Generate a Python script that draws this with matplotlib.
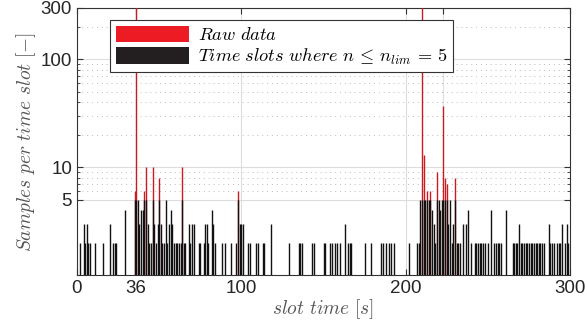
import numpy as np
import matplotlib
matplotlib.use('Agg')
import matplotlib.pyplot as plt
from matplotlib.patches import Patch
from matplotlib.ticker import FixedLocator, NullFormatter

# samples per 1 s slot (slots not listed hold <= 1 sample)
slot_t = [2, 4, 5, 6, 7, 8, 11, 16, 20, 22, 23, 24, 29,
          35, 36, 37, 38, 39, 40, 41, 42, 43, 44, 45, 46, 47, 48, 49, 50,
          51, 52, 53, 54, 55, 56, 57, 58, 59, 60, 61, 62, 63, 64, 65, 66,
          68, 69, 70, 71, 74, 75, 77, 78, 79, 80, 82, 83, 84, 88, 90, 94,
          97, 98, 99, 100, 101, 104, 105, 109, 110, 113, 114, 118, 129,
          135, 136, 137, 143, 144, 150, 151, 154, 155, 157, 158, 160, 163,
          165, 166, 167, 175, 179, 185, 186, 188, 190, 191, 193, 202,
          207, 208, 209, 210, 211, 212, 213, 214, 215, 216, 217, 218, 219,
          220, 221, 222, 223, 224, 225, 226, 227, 228, 229, 230, 231, 232,
          233, 235, 237, 238, 240, 242, 243, 244, 245, 246, 247, 248, 250,
          252, 254, 255, 256, 257, 258, 261, 265, 266, 267, 268, 269, 270,
          271, 272, 273, 274, 275, 276, 277, 278, 279, 280, 281, 282, 283,
          284, 287, 288, 289, 290, 292, 293, 294, 295, 297, 298, 299]
raw_n = [2, 3, 2, 3, 2, 2, 2, 2, 3, 2, 2, 2, 4,
         6, 450, 5, 3, 4, 4, 6, 10, 3, 2, 2, 10, 3, 2, 3, 8,
         3, 2, 2, 5, 2, 3, 4, 3, 2, 2, 2, 2, 2, 10, 2, 2,
         3, 2, 3, 3, 2, 2, 2, 3, 3, 2, 4, 3, 2, 2, 2, 2,
         2, 6, 3, 3, 3, 2, 2, 2, 2, 2, 2, 3, 2,
         2, 2, 2, 2, 2, 2, 2, 2, 2, 2, 2, 2, 3,
         2, 2, 2, 2, 2, 2, 2, 2, 2, 2, 2, 2,
         2, 2, 5, 420, 13, 5, 6, 5, 6, 4, 3, 2, 9,
         5, 4, 5, 37, 8, 7, 3, 5, 2, 3, 8, 2, 2,
         2, 3, 3, 4, 2, 2, 2, 2, 2, 2, 2, 2, 2,
         4, 2, 2, 2, 2, 2, 4, 2, 2, 2, 2, 3, 2,
         2, 2, 2, 2, 2, 2, 2, 2, 2, 2, 2, 2, 2,
         2, 3, 2, 2, 2, 2, 2, 2, 3, 2, 3, 2]
n_lim = 5

x_ticks = [0, 36, 100, 200, 223, 300]
x_labels = ['0', '36', '100', '200', '', '300']
y_ticks = [5, 10, 100, 300]

red = '#cc1a1f'
black = '#111111'

plt.rcParams['mathtext.fontset'] = 'cm'
plt.rcParams['font.family'] = ['Liberation Sans', 'DejaVu Sans']

fig = plt.figure(figsize=(5.85, 3.29), dpi=100)
ax = fig.add_axes([0.1316, 0.1641, 0.8428, 0.8116])

t = np.array(slot_t)
n = np.array(raw_n)
kept = np.minimum(n, n_lim)
over = n > n_lim

# raw data only shows above the limit, the black slots cover the rest
ax.vlines(t[over], 1, n[over], color=red, lw=1.0, zorder=3)
ax.vlines(t, 1, kept, color=black, lw=1.0, zorder=4)

ax.set_yscale('log')
ax.set_xlim(0, 300)
ax.set_ylim(1, 300)

ax.set_xticks(x_ticks)
ax.set_xticklabels(x_labels)
ax.set_yticks(y_ticks)
ax.set_yticklabels([str(v) for v in y_ticks])
minor = [6, 7, 8, 9, 20, 30, 40, 50, 60, 70, 80, 90, 200]
ax.yaxis.set_minor_locator(FixedLocator(minor))
ax.yaxis.set_minor_formatter(NullFormatter())

ax.tick_params(which='both', direction='in', top=True, right=True,
               labelsize=13.5, labelcolor='#262626', color='#333333')
ax.tick_params(which='major', length=4)
ax.tick_params(which='minor', length=2.5)

ax.grid(which='major', color='#dddddd', lw=0.8, zorder=0)
ax.grid(which='minor', axis='y', color='#bbbbbb', lw=0.7, ls=(0, (1, 4)), zorder=0)
ax.set_axisbelow(True)
for s in ax.spines.values():
    s.set_color('#333333')
    s.set_linewidth(0.8)

ax.set_xlabel(r'$slot\ time\ [s]$', fontsize=14, color='#555555', labelpad=0)
ax.set_ylabel(r'$Samples\ per\ time\ slot\ [-]$', fontsize=14, color='#555555', labelpad=2)

handles = [Patch(facecolor='#ed1c24', edgecolor='none'),
           Patch(facecolor='#231f20', edgecolor='none')]
leg = ax.legend(handles, [r'$Raw\ data$', r'$Time\ slots\ where\ n\,\leq\,n_{lim}\,=\,5$'],
                loc='upper left', bbox_to_anchor=(0.067, 0.955), borderaxespad=0,
                fontsize=13.2, fancybox=False, framealpha=1, edgecolor='#333333',
                handlelength=4.0, handleheight=1.0, handletextpad=0.5,
                borderpad=0.3, labelspacing=0.15)
leg.get_frame().set_linewidth(0.8)
leg.set_zorder(10)

fig.savefig('out.png', dpi=100)
